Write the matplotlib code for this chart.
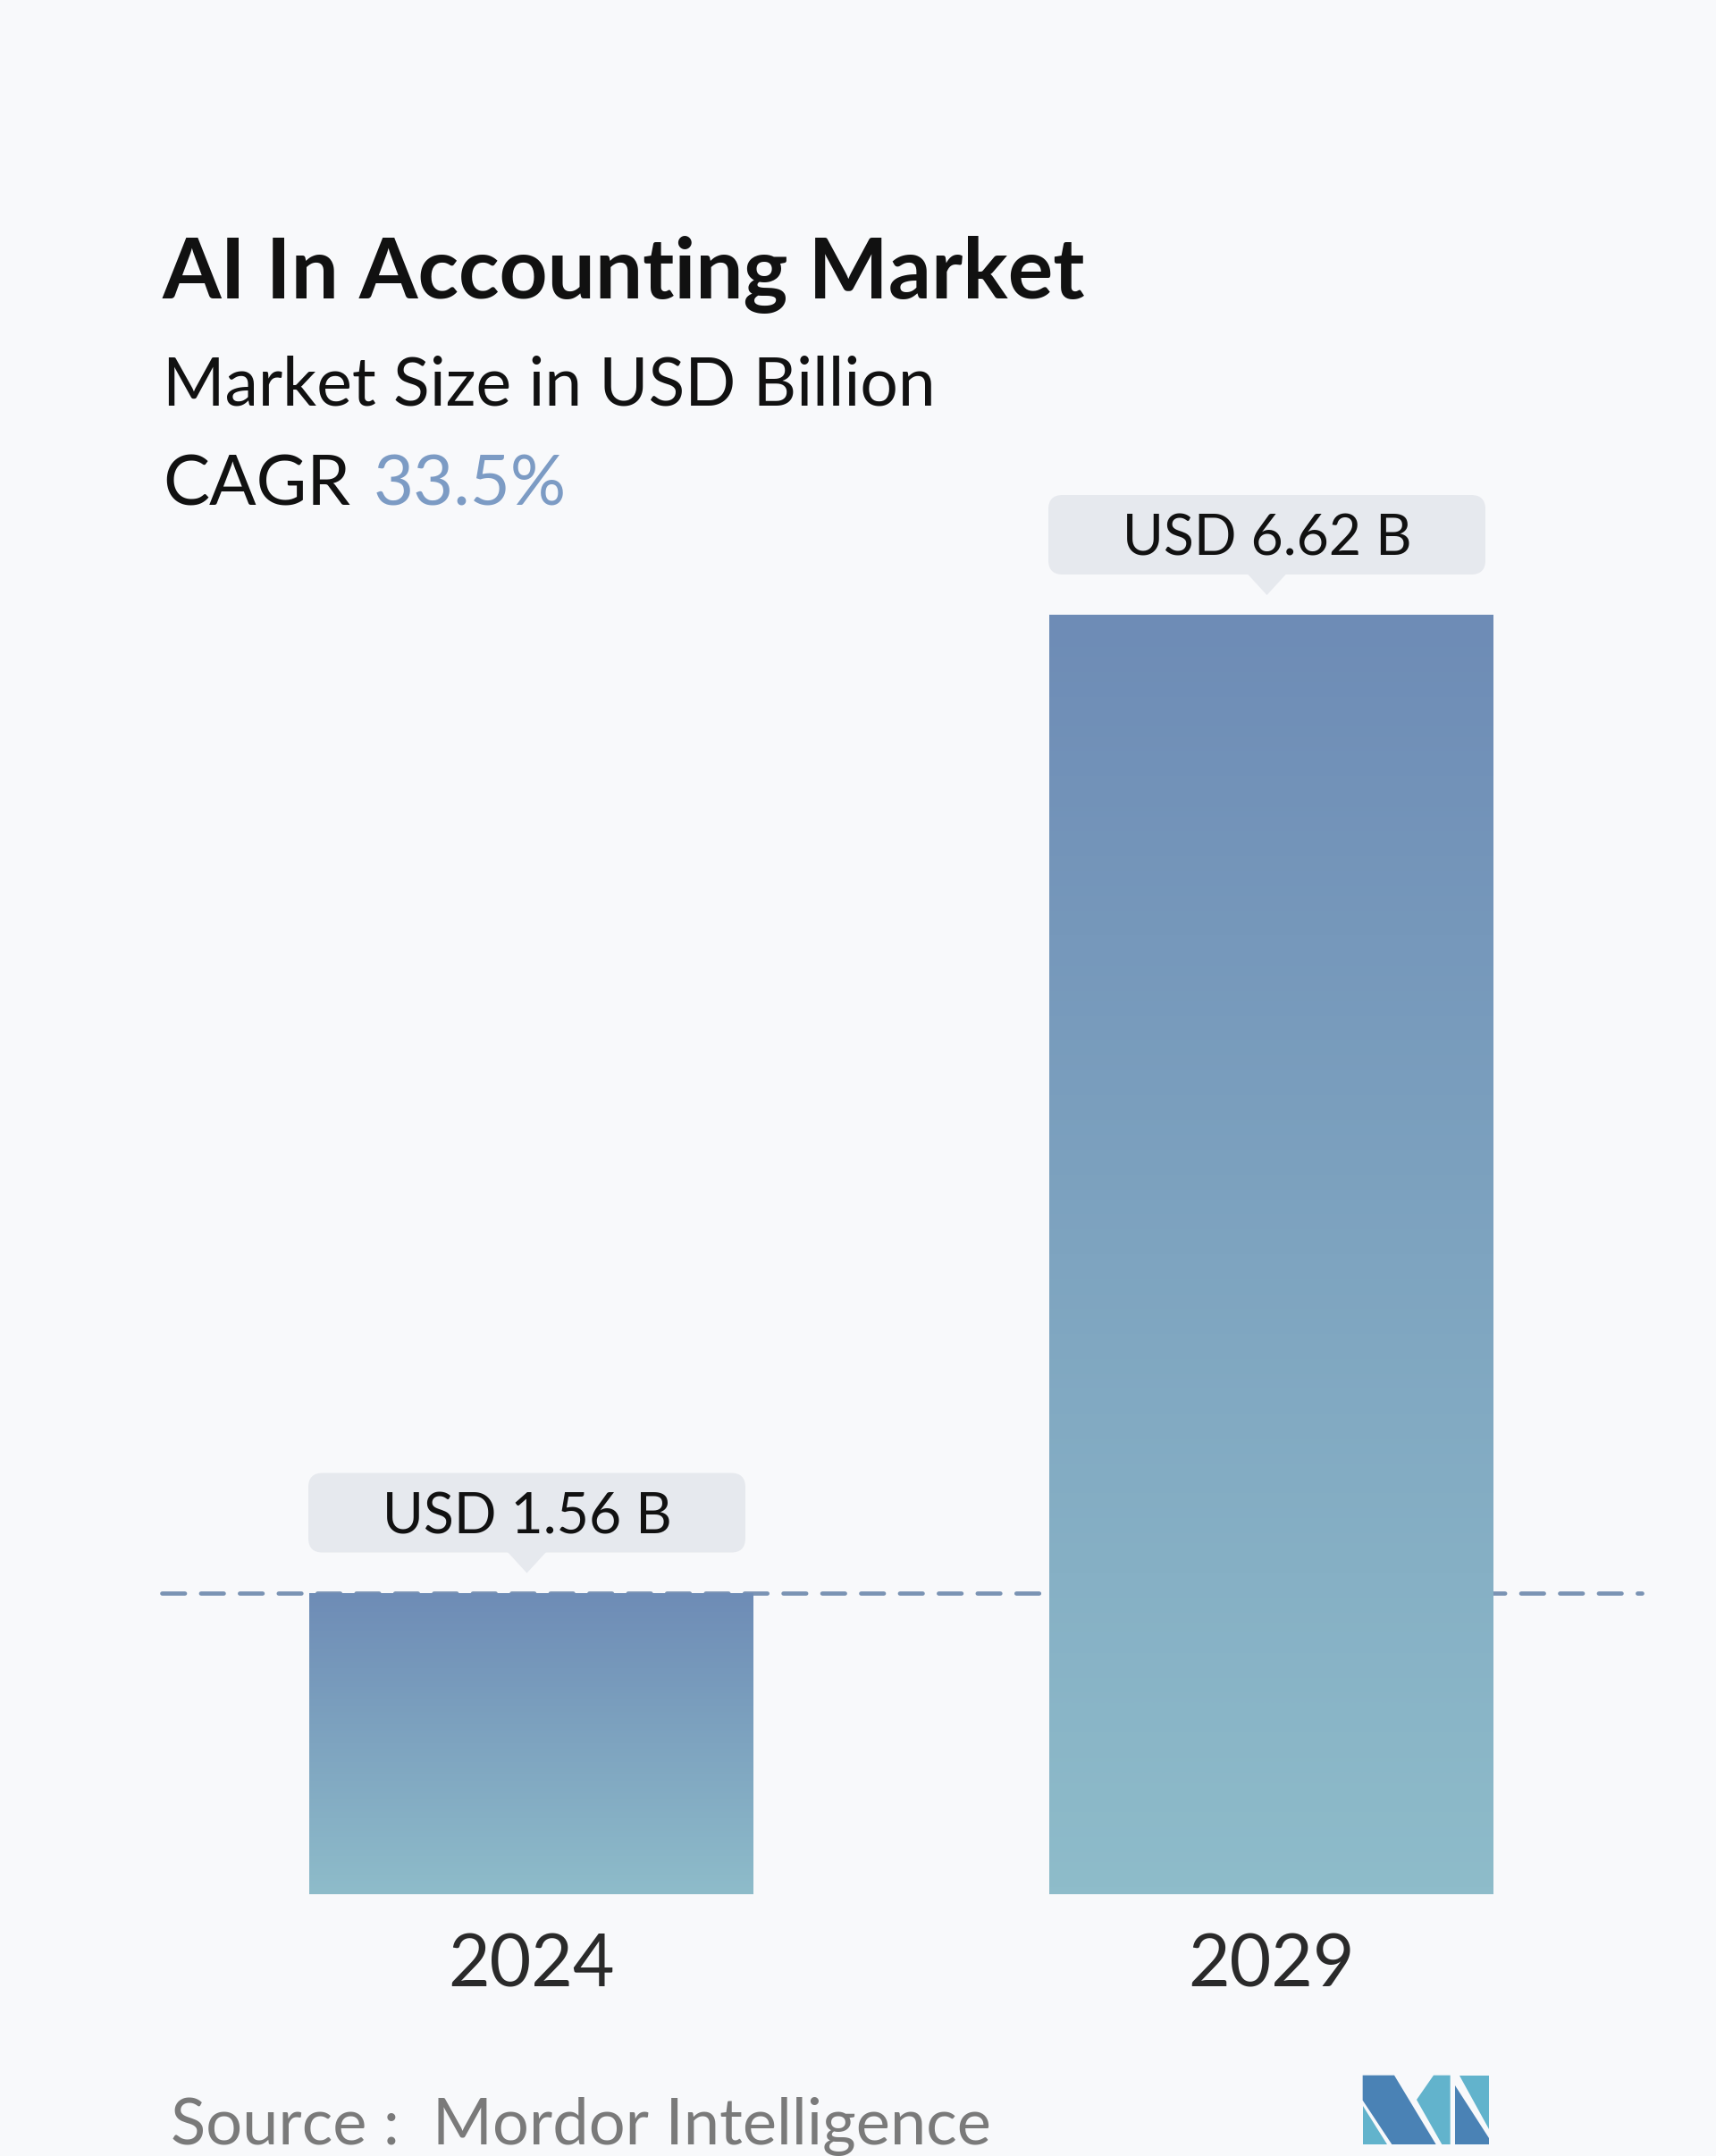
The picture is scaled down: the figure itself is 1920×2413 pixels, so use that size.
import matplotlib
matplotlib.use("Agg")
import matplotlib.pyplot as plt
import numpy as np
from matplotlib.patches import FancyBboxPatch, Polygon
from matplotlib.colors import LinearSegmentedColormap

# ---- data ----
years = ["2024", "2029"]
values = [1.56, 6.62]
value_labels = ["USD 1.56 B", "USD 6.62 B"]
title = "AI In Accounting Market"
subtitle = "Market Size in USD Billion"
cagr_label = "CAGR"
cagr_value = "33.5%"
source = "Source :  Mordor Intelligence"

W, H = 1920, 2413
BG = "#f8f9fb"
FONT = "Lato"

fig = plt.figure(figsize=(W / 100, H / 100), dpi=100, facecolor=BG)

# bar axes (pixel placement)
ax_left, ax_right = 180.5, 1836.5
ax_bottom_px = 2120          # y of baseline from top
px_per_unit = (2120 - 688) / 6.62
ymax = 7.0
ax_top_px = ax_bottom_px - ymax * px_per_unit
ax = fig.add_axes([ax_left / W, 1 - ax_bottom_px / H,
                   (ax_right - ax_left) / W, (ax_bottom_px - ax_top_px) / H])
ax.set_facecolor("none")
ax.set_xlim(-0.5, 1.5)
ax.set_ylim(0, ymax)
for s in ax.spines.values():
    s.set_visible(False)
ax.set_xticks([])
ax.set_yticks([])

x = np.arange(len(years))
bars = ax.bar(x, values, width=0.6, color="none", edgecolor="none", zorder=3)
cmap = LinearSegmentedColormap.from_list("g", ["#8ebcca", "#6e8cb6"])
grad = np.linspace(0, 1, 256).reshape(-1, 1)
for b in bars:
    x0, y0 = b.get_x(), b.get_y()
    im = ax.imshow(grad, cmap=cmap, aspect="auto", origin="lower",
                   extent=[x0, x0 + b.get_width(), y0, y0 + b.get_height()],
                   zorder=3, interpolation="bicubic")
    im.set_clip_path(b)

ax.axhline(values[0], color="#7a93b3", lw=3.4, dashes=(5.4, 3.8),
           dash_capstyle="round", zorder=1, clip_on=False)

# overlay axes in pixel coords (y down)
ov = fig.add_axes([0, 0, 1, 1])
ov.set_xlim(0, W)
ov.set_ylim(H, 0)
ov.axis("off")
ov.set_facecolor("none")
ov.set_zorder(5)

ov.text(182, 334, title, fontsize=68, fontweight="bold", family=FONT,
        color="#111111", va="baseline", ha="left")
ov.text(182, 454, subtitle, fontsize=54, family=FONT, color="#111111",
        va="baseline", ha="left")
t_cagr = ov.text(182, 565, cagr_label, fontsize=56, family=FONT,
                 color="#111111", va="baseline", ha="left")
fig.canvas.draw()
r = fig.canvas.get_renderer()
bb = t_cagr.get_window_extent(renderer=r)
ov.text(bb.x1 + 26, 565, cagr_value, fontsize=56, family=FONT,
        color="#7c9bc4", va="baseline", ha="left")


def to_px(xd, yd):
    dx, dy = ax.transData.transform((xd, yd))
    return dx, H - dy


for i, b in enumerate(bars):
    cx, top = to_px(x[i], values[i])
    bw, bh = 489, 89
    box_bottom = top - 45
    box = FancyBboxPatch((cx - 5 - bw / 2, box_bottom - bh), bw, bh,
                         boxstyle="round,pad=0,rounding_size=16",
                         fc="#e6e9ee", ec="none", zorder=6)
    ov.add_patch(box)
    tri = Polygon([[cx - 5 - 22, box_bottom - 1], [cx - 5 + 22, box_bottom - 1],
                   [cx - 5, top - 22]], closed=True, fc="#e6e9ee", ec="none",
                  zorder=6)
    ov.add_patch(tri)
    ov.text(cx - 5, box_bottom - bh / 2 + 23, value_labels[i], fontsize=45,
            family=FONT, color="#111111", ha="center", va="baseline",
            zorder=7)
    ov.text(cx, 2223, years[i], fontsize=58, family=FONT, color="#2a2a2a",
            ha="center", va="baseline")

ov.text(191, 2400, source, fontsize=52, family=FONT, color="#7a7a7a",
        ha="left", va="baseline")

# logo
def lp(pts):
    return [[1450 + px / 3, 2280 + py / 3] for px, py in pts]

dark = "#4a82b5"
light = "#62b3cc"
ov.add_patch(Polygon(lp([(224, 128), (330, 128), (470, 360), (322, 360), (224, 212)]),
                     fc=dark, ec="none"))
ov.add_patch(Polygon(lp([(224, 232), (224, 360), (305, 360)]), fc=light, ec="none"))
ov.add_patch(Polygon(lp([(405, 210), (462, 128), (518, 128), (518, 360), (490, 360)]),
                     fc=light, ec="none"))
ov.add_patch(Polygon(lp([(548, 128), (648, 128), (648, 308)]), fc=light, ec="none"))
ov.add_patch(Polygon(lp([(535, 162), (535, 360), (648, 360), (648, 338)]),
                     fc=dark, ec="none"))

fig.savefig("out.png", dpi=100, facecolor=BG)
